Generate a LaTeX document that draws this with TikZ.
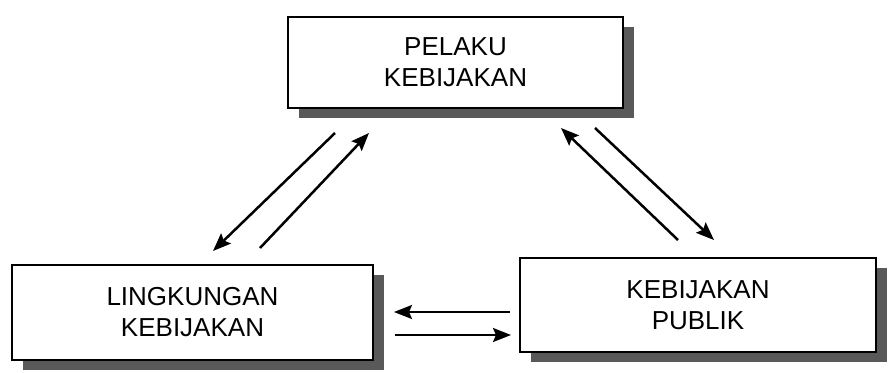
\documentclass[tikz,border=0pt]{standalone}
\usepackage{fontspec}
\setmainfont{Liberation Sans}
\usetikzlibrary{arrows.meta,shadows}
\tikzset{
  flow/.style={line width=2.5pt,-{Stealth[length=18pt,width=14pt,inset=3pt]}}
}
\begin{document}
\begin{tikzpicture}[x=1pt,y=-1pt,
  box/.style={draw,line width=1.8pt,fill=white,align=center,
    font=\fontsize{26}{31}\selectfont,
    drop shadow={shadow xshift=11pt,shadow yshift=-10pt,fill=black!65,opacity=1}}]
\useasboundingbox (0,0) rectangle (890,372);
\node[box,minimum width=335,minimum height=91] (PL) at (455.5,62.5) {PELAKU\\KEBIJAKAN};
\node[box,minimum width=361,minimum height=95] (LK) at (192.5,312.5) {LINGKUNGAN\\KEBIJAKAN};
\node[box,minimum width=356,minimum height=94] (KP) at (698,305) {KEBIJAKAN\\PUBLIK};
% ujung panah
\coordinate (a1) at (335,133);
\coordinate (b1) at (213,251);
\coordinate (a2) at (260,248);
\coordinate (b2) at (369,133);
\coordinate (a3) at (678,240);
\coordinate (b3) at (561,128);
\coordinate (a4) at (595,128);
\coordinate (b4) at (714,240);
\coordinate (a5) at (510,312);
\coordinate (b5) at (394,312);
\coordinate (a6) at (395,335);
\coordinate (b6) at (511,335);
\draw[flow] (a1) -- (b1);
\draw[flow] (a2) -- (b2);
\draw[flow] (a3) -- (b3);
\draw[flow] (a4) -- (b4);
\draw[flow] (a5) -- (b5);
\draw[flow] (a6) -- (b6);
\end{tikzpicture}
\end{document}
